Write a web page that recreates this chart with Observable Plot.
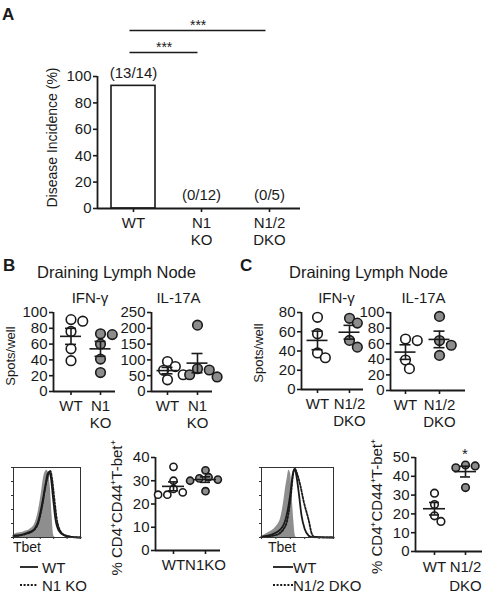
<!DOCTYPE html>
<html><head><meta charset="utf-8">
<script src="https://cdn.jsdelivr.net/npm/d3@7"></script>
<script src="https://cdn.jsdelivr.net/npm/@observablehq/plot@0.6"></script>
<style>
html,body{margin:0;padding:0;background:#fff;}
#root{position:relative;width:482px;height:599px;overflow:hidden;font-family:"Liberation Sans",Arial,Helvetica,sans-serif;color:#1a1a1a;}
#root svg{position:absolute;left:0;top:0;}
.lbl{position:absolute;white-space:nowrap;line-height:1;}
</style></head><body><div id="root"></div>
<script>
// ---------- data ----------
const incidenceGroups = ["WT", "N1 KO", "N1/2 DKO"];
const incidenceTickLabels = ["WT", "N1\nKO", "N1/2\nDKO"];
const incidenceValues = [92.9, 0, 0];
const incidenceCounts = ["(13/14)", "(0/12)", "(0/5)"];
const incidenceComparisons = [["WT", "N1 KO", "***"], ["WT", "N1/2 DKO", "***"]];
const incidenceTicks = [0, 20, 40, 60, 80, 100];

const bTickLabels = ["WT", "N1\nKO"];
const bTbetTickLabels = ["WT", "N1KO"];
const cTickLabels = ["WT", "N1/2\nDKO"];

const bIfngWT = [89, 91, 76, 54, 39];
const bIfngKO = [73, 72, 60, 41, 24];
const bIl17WT = [95, 79, 67, 53, 37];
const bIl17KO = [210, 72, 68, 53, 46];
const bTbetWT = [36, 30, 26.5, 25, 24, 24];
const bTbetKO = [34.5, 31.5, 31, 30.5, 30, 25.5];

const cIfngWT = [75, 58, 38, 33];
const cIfngKO = [74, 69, 51, 44];
const cIl17WT = [66, 64, 39, 28];
const cIl17KO = [95, 64, 58, 45];
const cTbetWT = [31, 25, 19, 16];
const cTbetKO = [46, 45.5, 44.5, 34];

const ticksIfngB = [0, 20, 40, 60, 80, 100];
const ticksIl17B = [0, 50, 100, 150, 200, 250];
const ticksIfngC = [0, 20, 40, 60, 80];
const ticksIl17C = [0, 20, 40, 60, 80, 100];
const ticksTbetB = [0, 10, 20, 30, 40];
const ticksTbetC = [0, 10, 20, 30, 40, 50];

// flow histograms: [channel (0-100 of axis), % of max]
const histBControl = [[0,4],[5,6],[15,8],[25,12],[32,20],[37,37],[42,66],[45,86],[47.5,94],[50,96],[52.5,91],[55,71],[57.5,32],[60,3],[62.5,0],[100,0]];
const histBWT = [[0,2.5],[10,3.4],[20,6.4],[30,11],[37.5,25],[42.5,47],[47.5,74],[51,91],[53.5,94],[56,84],[59,57],[62.5,27],[67.5,10],[75,3.4],[85,1],[100,0]];
const histBKO = [[0,2],[10,3],[20,5.5],[30,10],[38,24],[43,46],[48,74],[52,90],[55,95],[57.5,84],[61,55],[64.5,27],[69.5,10],[77,3],[87,1],[100,0]];
const histCControl = [[0,1.5],[10,7],[20,15],[26.5,27],[31,52],[33.5,71],[36,86],[38,96],[40.5,91],[42.7,57],[45,22],[47,2.5],[48.5,0],[100,0]];
const histCWT = [[0,1],[15,4.4],[29,15],[36,37],[40.5,66],[43.5,91],[46,98],[48,91],[52,62],[55.5,32],[60,12],[65.5,2.5],[70,0.5],[100,0]];
const histCKO = [[0,1],[20,3.4],[33.5,17],[40.5,57],[44,91],[46.5,98],[49.5,91],[54,74],[58.5,52],[65.5,25],[70,5],[73.5,1],[100,0]];

const legendB = ["WT", "N1 KO"];
const legendC = ["WT", "N1/2 DKO"];

// ---------- helpers ----------
const root = document.getElementById("root");
const W = 482, H = 599;
const FONT = '"Liberation Sans", Arial, Helvetica, sans-serif';
const INK = "#1a1a1a";
const GREY = "#8c8c8c";
const AXW = 1.8;

function framePlot([L, R, T, B], opts) {
  const svg = Plot.plot({
    width: W, height: H,
    marginLeft: L, marginRight: W - R, marginTop: T, marginBottom: H - B,
    style: {background: "transparent", overflow: "visible", fontFamily: FONT, fontSize: "15px", color: INK},
    ...opts
  });
  root.appendChild(svg);
  return svg;
}

function label(text, x, baseline, size, anchor = "start", weight = "normal") {
  const d = document.createElement("div");
  d.className = "lbl";
  d.textContent = text;
  d.style.fontSize = size + "px";
  d.style.fontWeight = weight;
  d.style.top = (baseline - 0.8465 * size) + "px";
  d.style.left = x + "px";
  if (anchor === "middle") d.style.transform = "translateX(-50%)";
  root.appendChild(d);
}

// ---------- panel A ----------
{
  const frame = [97, 300, 76, 208];
  const centers = [133, 269];
  const unit = (centers[1] - centers[0]) / 2;
  const kY = (frame[3] - frame[2]) / 100;
  const barHalf = 22 / unit;
  const xLeft = (frame[0] - centers[0]) / unit;
  const table = incidenceGroups.map((g, i) => ({i, group: g, value: incidenceValues[i], count: incidenceCounts[i]}));
  const comps = incidenceComparisons.map(([from, to, lab], k) => ({
    a: incidenceGroups.indexOf(from), b: incidenceGroups.indexOf(to), lab,
    level: 100 + (24 + 22 * k) / kY
  }));
  framePlot(frame, {
    x: {domain: [0, 2], range: centers, label: null},
    y: {domain: [0, 100], label: null},
    marks: [
      Plot.rectY(table, {x1: d => d.i - barHalf, x2: d => d.i + barHalf, y: "value", fill: "white", stroke: INK, strokeWidth: 1.6}),
      Plot.text(table, {x: "i", y: "value", text: "count", dy: -13, fontSize: 15}),
      Plot.link(comps, {x1: "a", x2: "b", y1: "level", y2: "level", dx: -4, stroke: INK, strokeWidth: 1.6}),
      Plot.text(comps, {x: d => (d.a + d.b) / 2 - 0.05, y: "level", text: "lab", lineAnchor: "bottom", dy: -1, fontSize: 14}),
      Plot.axisY(incidenceTicks, {tickSize: 4, tickPadding: 2, strokeWidth: 1.6, label: null, fontSize: 15}),
      Plot.axisX([0, 1, 2], {tickSize: 4, tickPadding: 3, strokeWidth: 1.6, label: null, fontSize: 15, lineHeight: 1.15, tickFormat: i => incidenceTickLabels[i]}),
      Plot.ruleY([0], {stroke: INK, strokeWidth: AXW}),
      Plot.ruleX([xLeft], {stroke: INK, strokeWidth: AXW}),
      Plot.text(["Disease Incidence (%)"], {text: d => d, frameAnchor: "left", textAnchor: "middle", rotate: -90, dx: 52.5 - frame[0], dy: -5, fontSize: 14})
    ]
  });
}

// ---------- scatter panels ----------
function scatterPanel(cfg) {
  const {frame, centers, tickLabels, series, fills, yTicks, ymax, r, ylabel, ylabelX, ylabelDy, ylabelSize, meanHalf, capHalf, lineHeight} = cfg;
  const [L, R, T, B] = frame;
  const unit = centers[1] - centers[0];
  const kY = (B - T) / ymax;
  const D = 2 * r + 1.6;
  const minD = 0.82 * D;
  const pts = [];
  series.forEach((vals, g) => {
    const placed = [];
    [...vals].sort((a, b) => b - a).forEach(v => {
      const py = v * kY;
      let off = 0;
      for (let k = 0; k < 40; k++) {
        const cand = k === 0 ? 0 : (k % 2 ? 1 : -1) * Math.ceil(k / 2) * D * 0.35;
        if (placed.every(p => Math.hypot(p.ox - cand, p.py - py) >= minD)) { off = cand; break; }
      }
      placed.push({ox: off, py});
      pts.push({g, v, x: g + off / unit, fill: fills[g]});
    });
  });
  const stats = series.map((vals, g) => {
    const m = d3.mean(vals), s = d3.deviation(vals) / Math.sqrt(vals.length);
    return {g, m, lo: m - s, hi: m + s};
  });
  const mh = meanHalf / unit, ch = capHalf / unit;
  const xLeft = (L - centers[0]) / unit;
  const marks = [
    Plot.axisY(yTicks, {tickSize: 4, tickPadding: 2, strokeWidth: 1.6, label: null, fontSize: 15}),
    Plot.axisX([0, 1], {tickSize: 4, tickPadding: 3, strokeWidth: 1.6, label: null, fontSize: 15, lineHeight, tickFormat: i => tickLabels[i]}),
    Plot.ruleY([0], {stroke: INK, strokeWidth: AXW}),
    Plot.ruleX([xLeft], {stroke: INK, strokeWidth: AXW}),
    Plot.dot(pts, {x: "x", y: "v", r, fill: "fill", stroke: INK, strokeWidth: 1.6}),
    Plot.ruleY(stats, {y: "m", x1: d => d.g - mh, x2: d => d.g + mh, stroke: INK, strokeWidth: 1.6}),
    Plot.ruleX(stats, {x: "g", y1: "lo", y2: "hi", stroke: INK, strokeWidth: 1.6}),
    Plot.ruleY(stats, {y: "hi", x1: d => d.g - ch, x2: d => d.g + ch, stroke: INK, strokeWidth: 1.6}),
    Plot.ruleY(stats, {y: "lo", x1: d => d.g - ch, x2: d => d.g + ch, stroke: INK, strokeWidth: 1.6})
  ];
  if (ylabel) marks.push(Plot.text([ylabel], {text: d => d, frameAnchor: "left", textAnchor: "middle", rotate: -90, dx: ylabelX - L, dy: ylabelDy, fontSize: ylabelSize}));
  framePlot(frame, {
    x: {domain: [0, 1], range: centers, label: null},
    y: {domain: [0, ymax], label: null},
    color: {type: "identity"},
    marks
  });
}

const fillsWK = ["white", GREY];

scatterPanel({frame: [53, 115, 312, 391], centers: [70.5, 100], tickLabels: bTickLabels, series: [bIfngWT, bIfngKO], fills: fillsWK,
  yTicks: ticksIfngB, ymax: 100, r: 4.8, ylabel: "Spots/well", ylabelX: 10, ylabelDy: 4, ylabelSize: 13, meanHalf: 10.5, capHalf: 5.5, lineHeight: 1.15});
scatterPanel({frame: [151, 212, 312, 391], centers: [167, 197], tickLabels: bTickLabels, series: [bIl17WT, bIl17KO], fills: fillsWK,
  yTicks: ticksIl17B, ymax: 250, r: 4.8, meanHalf: 10.5, capHalf: 5.5, lineHeight: 1.15});
scatterPanel({frame: [301, 363, 312, 389], centers: [317, 349], tickLabels: cTickLabels, series: [cIfngWT, cIfngKO], fills: fillsWK,
  yTicks: ticksIfngC, ymax: 80, r: 4.8, ylabel: "Spots/well", ylabelX: 258, ylabelDy: 2, ylabelSize: 13, meanHalf: 10.5, capHalf: 5.5, lineHeight: 1.15});
scatterPanel({frame: [390, 465, 312, 390], centers: [405, 439], tickLabels: cTickLabels, series: [cIl17WT, cIl17KO], fills: fillsWK,
  yTicks: ticksIl17C, ymax: 100, r: 4.8, meanHalf: 10.5, capHalf: 5.5, lineHeight: 1.15});
scatterPanel({frame: [155, 220, 457, 550], centers: [173, 205], tickLabels: bTbetTickLabels, series: [bTbetWT, bTbetKO], fills: fillsWK,
  yTicks: ticksTbetB, ymax: 40, r: 3.6, ylabel: "% CD4\u207ACD44\u207AT-bet\u207A", ylabelX: 117, ylabelDy: 4, ylabelSize: 15, meanHalf: 11, capHalf: 5, lineHeight: 1.2});
scatterPanel({frame: [415, 482, 457, 551], centers: [434, 465], tickLabels: cTickLabels, series: [cTbetWT, cTbetKO], fills: fillsWK,
  yTicks: ticksTbetC, ymax: 50, r: 3.8, ylabel: "% CD4\u207ACD44\u207AT-bet\u207A", ylabelX: 377, ylabelDy: 2, ylabelSize: 15, meanHalf: 11, capHalf: 5, lineHeight: 1.25});

// ---------- histograms ----------
function histPanel(frame, control, wt, ko) {
  const px = d => d[0], py = d => d[1];
  framePlot(frame, {
    x: {domain: [0, 100], label: null},
    y: {domain: [0, 100], label: null},
    marks: [
      Plot.areaY(control, {x: px, y: py, fill: "#8e8e8e", curve: "monotone-x"}),
      Plot.line(wt, {x: px, y: py, stroke: INK, strokeWidth: 1.8, curve: "monotone-x"}),
      Plot.line(ko, {x: px, y: py, stroke: INK, strokeWidth: 1.8, strokeDasharray: "2,1.6", curve: "monotone-x"}),
      Plot.frame({stroke: "#333", strokeWidth: 1}),
      Plot.axisY({ticks: 5, tickSize: 2, tickFormat: () => "", label: null, stroke: "#333"}),
      Plot.axisX({ticks: 5, tickSize: 2, tickFormat: () => "", label: null, stroke: "#333"})
    ]
  });
}
histPanel([13, 80, 467, 537], histBControl, histBWT, histBKO);
histPanel([261, 333, 467, 537], histCControl, histCWT, histCKO);

// ---------- legends ----------
{
  const svg = d3.create("svg").attr("width", W).attr("height", H);
  const rows = [
    {x1: 20, x2: 38, tx: 42, labels: legendB},
    {x1: 273, x2: 293, tx: 293, labels: legendC}
  ];
  const ys = [567, 585];
  rows.forEach(row => {
    row.labels.forEach((lab, k) => {
      svg.append("line").attr("x1", row.x1).attr("x2", row.x2).attr("y1", ys[k]).attr("y2", ys[k])
        .attr("stroke", INK).attr("stroke-width", 1.8).attr("stroke-dasharray", k ? "2,1.6" : null);
      svg.append("text").attr("x", row.tx).attr("y", ys[k] + 5.5).attr("font-family", FONT).attr("font-size", 15)
        .attr("fill", INK).text(lab);
    });
  });
  root.appendChild(svg.node());
}

// ---------- titles ----------
label("A", 2, 20, 17, "start", "bold");
label("B", 3, 271.5, 17, "start", "bold");
label("C", 240, 271.5, 17, "start", "bold");
label("Draining Lymph Node", 37, 278, 16.5);
label("Draining Lymph Node", 289, 278, 16.5);
label("IFN-\u03B3", 90, 302.5, 15, "middle");
label("IL-17A", 178.5, 302.5, 15, "middle");
label("IFN-\u03B3", 336.5, 302.5, 15, "middle");
label("IL-17A", 423.5, 302.5, 15, "middle");
label("Tbet", 13, 552, 14);
label("Tbet", 268, 552, 14);
label("*", 465, 459, 15, "middle");
</script>
</body></html>
